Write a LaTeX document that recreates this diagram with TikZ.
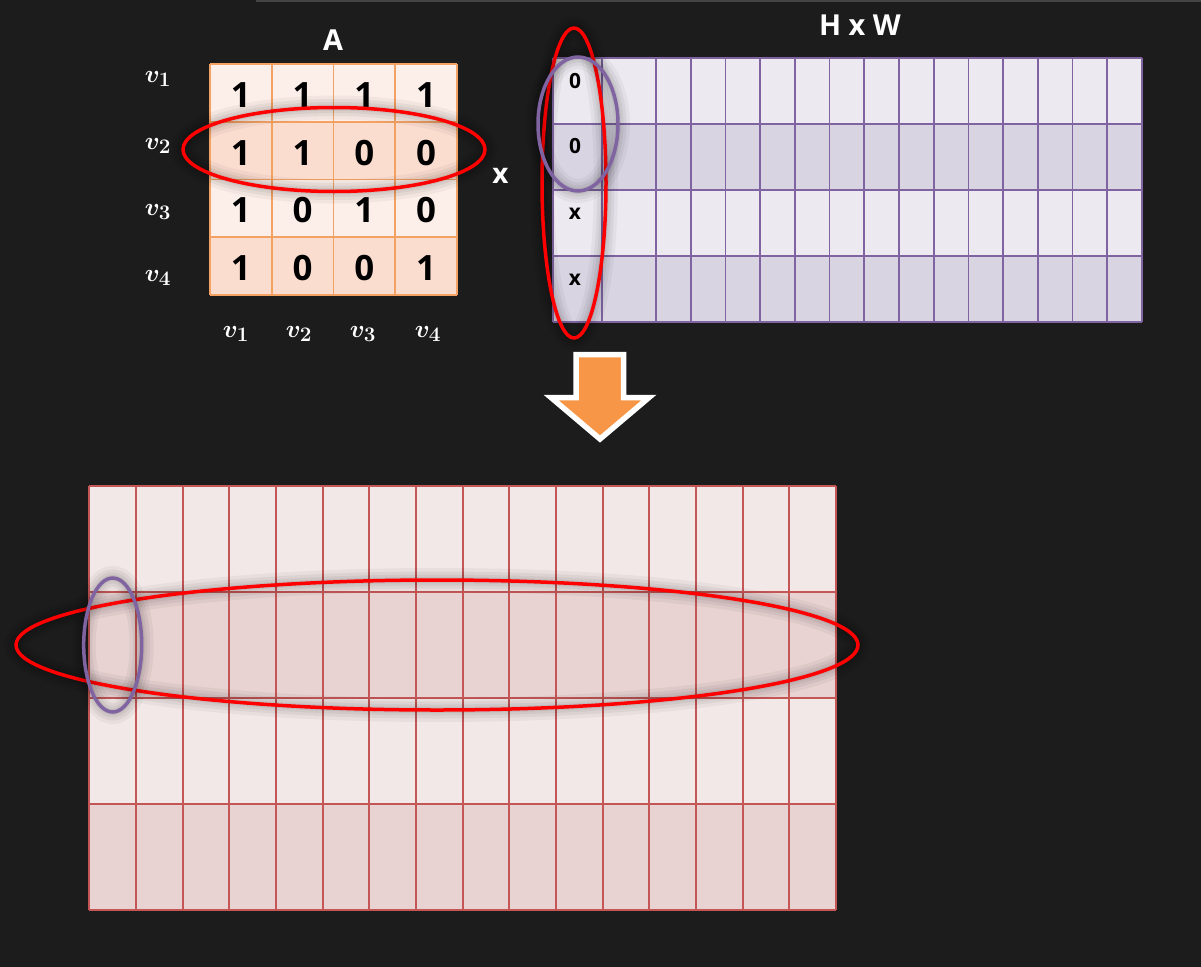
\documentclass[tikz,border=0pt]{standalone}
\usepackage{fontspec}
\setmainfont{Open Sans}
\definecolor{bg}{HTML}{1C1C1C}
\definecolor{topline}{HTML}{454545}
\definecolor{aL}{HTML}{FCEFEA}
\definecolor{aD}{HTML}{FBDDD0}
\definecolor{aB}{HTML}{F4A263}
\definecolor{hL}{HTML}{ECEAF0}
\definecolor{hD}{HTML}{D8D4E2}
\definecolor{hB}{HTML}{8064A2}
\definecolor{rL}{HTML}{F2E8E8}
\definecolor{rD}{HTML}{E8D2D2}
\definecolor{rB}{HTML}{C45656}
\definecolor{arrowor}{HTML}{F79646}
\definecolor{ellred}{HTML}{FF0000}
\definecolor{ellpur}{HTML}{8064A2}
\tikzset{
  digit/.style={text=black, font=\bfseries\fontsize{35}{40}\selectfont, inner sep=0pt},
  smalltxt/.style={text=black, font=\bfseries\fontsize{21}{24}\selectfont, inner sep=0pt},
  title/.style={text=white, font=\bfseries\fontsize{29}{32}\selectfont, inner sep=0pt},
  timestxt/.style={text=white, font=\bfseries\fontsize{28}{32}\selectfont, inner sep=0pt},
  vlabel/.style={text=white, font=\fontsize{31}{34}\selectfont\boldmath, inner sep=0pt},
  glow/.style={preaction={draw=black, draw opacity=.04, line width=24bp},
               preaction={draw=black, draw opacity=.05, line width=17bp},
               preaction={draw=black, draw opacity=.05, line width=11bp},
               preaction={draw=black, draw opacity=.06, line width=6bp}},
  redell/.style={glow, draw=ellred, line width=3.5bp},
  purell/.style={glow, draw=ellpur, line width=3.5bp},
}
\begin{document}
\begin{tikzpicture}[x=1bp,y=-1bp]
\useasboundingbox (0,0) rectangle (1201,967);
\fill[bg] (0,0) rectangle (1201,967);
\draw[topline, line width=1.5bp] (256,0.75) -- (1201,0.75);

% ---------- matrix A ----------
\foreach \j/\c in {0/aL,1/aD,2/aL,3/aD}
  \fill[\c] (210,{64+\j*57.75}) rectangle (457,{64+(\j+1)*57.75});
\foreach \i in {0,...,4}
  \draw[aB, line width=1.8bp] ({210+\i*61.75},64) -- ({210+\i*61.75},295);
\foreach \j in {0,...,4}
  \draw[aB, line width=1.8bp] (210,{64+\j*57.75}) -- (457,{64+\j*57.75});
\foreach \r/\a/\b/\c/\d in {1/1/1/1/1, 2/1/1/0/0, 3/1/0/1/0, 4/1/0/0/1}{
  \foreach \col/\v in {1/\a,2/\b,3/\c,4/\d}{
    \node[digit] (a\r\col) at ({210+(\col-0.5)*61.75},{66+(\r-0.5)*57.75}) {\v};
  }
}
\node[title] (Alab) at (333,40) {A};
\node[vlabel] (r1) at (158,79) {$v_1$};
\node[vlabel] (r2) at (158,146) {$v_2$};
\node[vlabel] (r3) at (158,212) {$v_3$};
\node[vlabel] (r4) at (158,278) {$v_4$};
\node[vlabel] (c1) at (236,334) {$v_1$};
\node[vlabel] (c2) at (299,334) {$v_2$};
\node[vlabel] (c3) at (363,334) {$v_3$};
\node[vlabel] (c4) at (428,334) {$v_4$};
\node[timestxt] (times) at (500.5,176) {x};

% ---------- H x W ----------
\foreach \j/\c in {0/hL,1/hD,2/hL,3/hD}
  \fill[\c] (553,{58+\j*66}) rectangle (1142,{58+(\j+1)*66});
\foreach \xx in {553,602,656}
  \draw[hB, line width=1.8bp] (\xx,58) -- (\xx,322);
\foreach \k in {1,...,14}
  \draw[hB, line width=1.8bp] ({656+\k*34.714},58) -- ({656+\k*34.714},322);
\foreach \j in {0,...,4}
  \draw[hB, line width=1.8bp] (553,{58+\j*66}) -- (1142,{58+\j*66});
\node[title] (HW) at (860,25) {H x W};
\node[smalltxt] (h1) at (575,81) {0};
\node[smalltxt] (h2) at (575,146.5) {0};
\node[smalltxt] (h3) at (575,214) {x};
\node[smalltxt] (h4) at (575,280) {x};

% ellipses top
\draw[redell] (334,149.5) ellipse [x radius=151bp, y radius=42bp];
\draw[redell] (574,183) ellipse [x radius=32bp, y radius=155bp];
\draw[purell] (578,124) ellipse [x radius=40bp, y radius=67bp];

% ---------- arrow ----------
\draw[white, fill=arrowor, line width=5.5bp, miter limit=10]
  (576,354.5) -- (623.7,354.5) -- (623.7,397.5) -- (649,397.5) -- (600,439)
  -- (551,397.5) -- (576,397.5) -- cycle;

% ---------- result grid ----------
\foreach \j/\c in {0/rL,1/rD,2/rL,3/rD}
  \fill[\c] (89.3,{486+\j*106}) rectangle (836,{486+(\j+1)*106});
\foreach \k in {0,...,16}
  \draw[rB, line width=2bp] ({89.3+\k*46.67},486) -- ({89.3+\k*46.67},910);
\foreach \j in {0,...,4}
  \draw[rB, line width=2bp] (89.3,{486+\j*106}) -- (836,{486+\j*106});

\draw[redell] (437,645) ellipse [x radius=421bp, y radius=65bp];
\draw[purell] (112.7,645) ellipse [x radius=29bp, y radius=67bp];
\end{tikzpicture}
\end{document}
